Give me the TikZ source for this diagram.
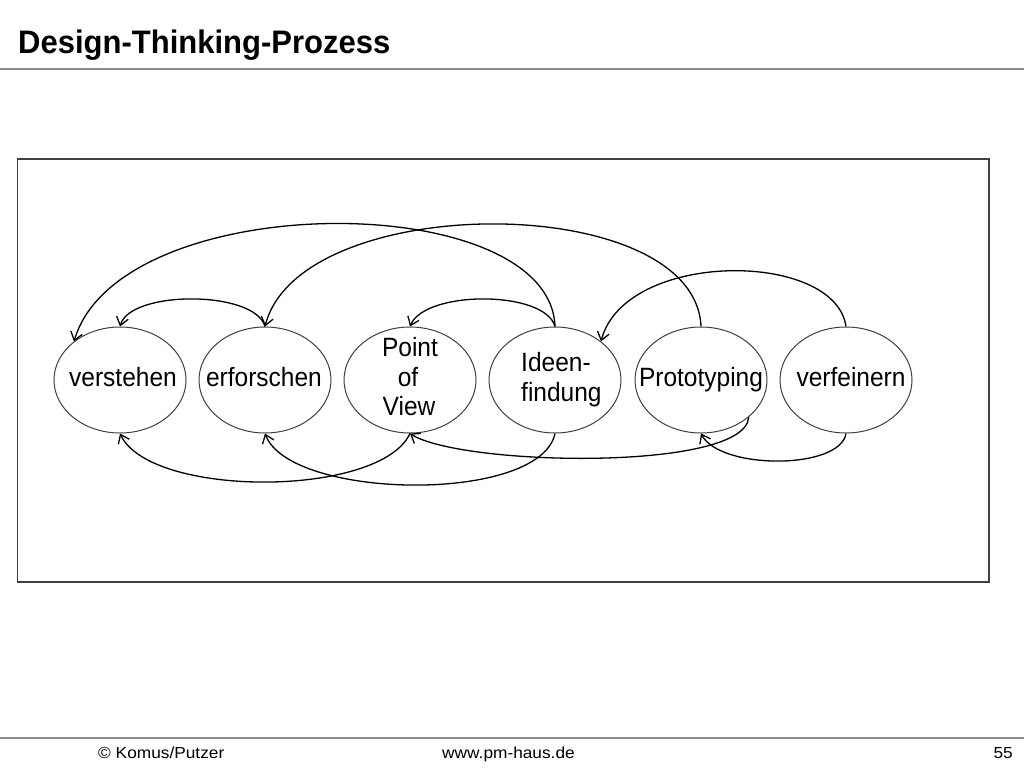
\documentclass[tikz,border=0pt]{standalone}
\usepackage{fontspec}
\setmainfont{Liberation Sans}
\usetikzlibrary{shapes.geometric,arrows.meta}
\begin{document}
\begin{tikzpicture}[x=1pt,y=-1pt,
  ell/.style={draw=black!75, line width=1pt, ellipse, minimum width=132pt, minimum height=106pt, inner sep=0pt},
  lab/.style={font=\fontsize{24.5}{30}\selectfont, inner sep=0pt, align=center, yscale=1.08},
  arc/.style={line width=1.3pt, -{Straight Barb[length=8pt,width=12pt]}},
  foot/.style={font=\fontsize{16}{18}\selectfont, inner sep=0pt, xscale=1.08}
]
\useasboundingbox (0,0) rectangle (1024,768);
\fill[white] (0,0) rectangle (1024,768);
% header
\node[anchor=base west, inner sep=0pt, font=\fontsize{31}{36}\selectfont\bfseries, yscale=1.05] (title) at (18,53) {Design-Thinking-Prozess};
\draw[black!45, line width=1.5pt] (0,69) -- (1024,69);
% frame
\draw[black!75, line width=1.5pt] (17.5,159) rectangle (989,582);
% ellipses
\node[ell] (ver) at (120,380) {};
\node[ell] (erf) at (265,380) {};
\node[ell] (pov) at (410,380) {};
\node[ell] (ide) at (555,380) {};
\node[ell] (pro) at (701,380) {};
\node[ell] (vfe) at (846,380) {};
\node[lab, anchor=base] (tver) at (123,386) {verstehen};
\node[lab, anchor=base] (terf) at (264,386) {erforschen};
\node[lab, anchor=base] (tpov1) at (410,356) {Point};
\node[lab, anchor=base] (tpov2) at (408,386) {of};
\node[lab, anchor=base] (tpov3) at (409,415) {View};
\node[lab, anchor=base west] (tide1) at (521,371) {Ideen-};
\node[lab, anchor=base west] (tide2) at (521,401) {findung};
\node[lab, anchor=base] (tpro) at (701,386) {Prototyping};
\node[lab, anchor=base] (tvfe) at (851,386) {verfeinern};
% top arcs
\draw[arc] (ide.north) .. controls (550,187) and (120,187) .. (ver.140);
\draw[arc] (pro.north) .. controls (695,190) and (300,190) .. (erf.north);
\draw[arc] (erf.north) .. controls (255,290) and (130,290) .. (ver.north);
\draw[arc] (ide.north) .. controls (545,290) and (425,290) .. (pov.north);
\draw[arc] (vfe.north) .. controls (835,250) and (625,250) .. (ide.40);
% bottom arcs
\draw[arc] (pov.south) .. controls (380,498) and (150,498) .. (ver.south);
\draw[arc] (ide.south) .. controls (540,504) and (290,500) .. (erf.south);
\draw[arc] (pro.-38) .. controls (745,472) and (460,466) .. (pov.south);
\draw[arc] (vfe.south) .. controls (840,470) and (720,470) .. (pro.south);
% footer
\draw[black!45, line width=1.5pt] (0,738) -- (1024,738);
\node[foot, anchor=base west] (f1) at (98,758) {© Komus/Putzer};
\node[foot, anchor=base west] (f2) at (442,758) {www.pm-haus.de};
\node[foot, anchor=base east] (f3) at (1013,758) {55};
\end{tikzpicture}
\end{document}
